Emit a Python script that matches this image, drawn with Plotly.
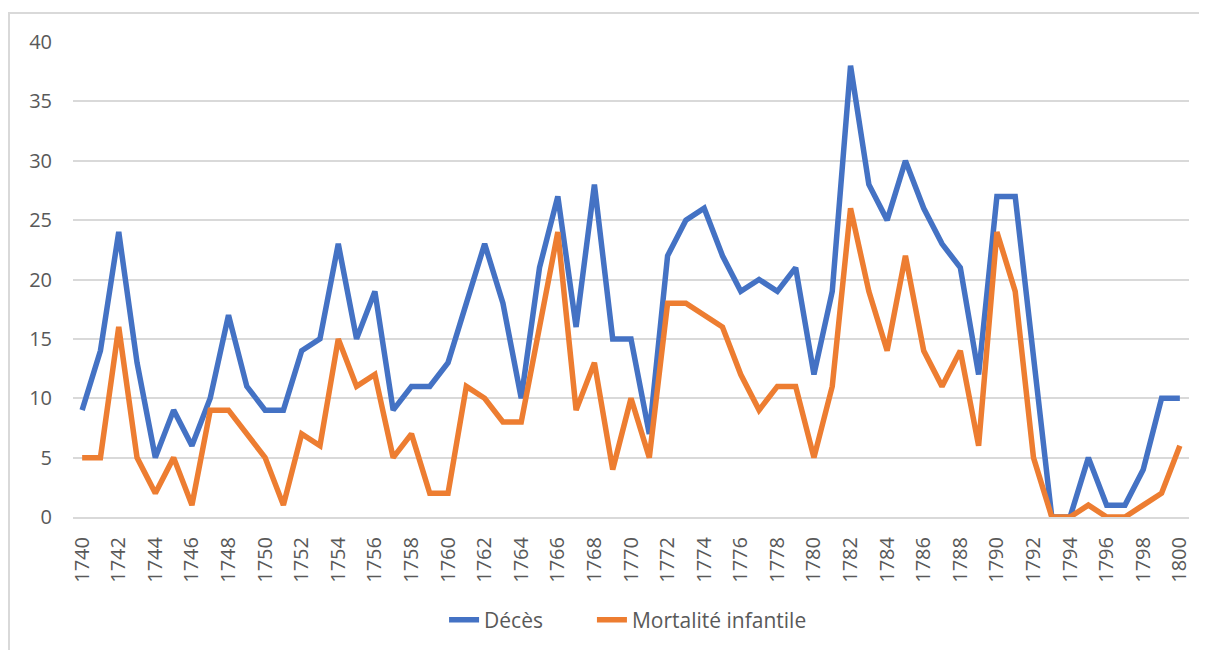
import plotly.graph_objects as go

years = [str(y) for y in range(1740, 1801)]
deces = [9, 14, 24, 13, 5, 9, 6, 10, 17, 11, 9, 9, 14, 15, 23, 15, 19, 9, 11, 11,
         13, 18, 23, 18, 10, 21, 27, 16, 28, 15, 15, 7, 22, 25, 26, 22, 19, 20, 19, 21,
         12, 19, 38, 28, 25, 30, 26, 23, 21, 12, 27, 27, 13, 0, 0, 5, 1, 1, 4, 10, 10]
mortalite = [5, 5, 16, 5, 2, 5, 1, 9, 9, 7, 5, 1, 7, 6, 15, 11, 12, 5, 7, 2,
             2, 11, 10, 8, 8, 16, 24, 9, 13, 4, 10, 5, 18, 18, 17, 16, 12, 9, 11, 11,
             5, 11, 26, 19, 14, 22, 14, 11, 14, 6, 24, 19, 5, 0, 0, 1, 0, 0, 1, 2, 6]
tick_labels = years[::2]
y_ticks = [0, 5, 10, 15, 20, 25, 30, 35, 40]

fig = go.Figure()
fig.add_trace(go.Scatter(x=years, y=deces, mode="lines", name="Décès",
                         line=dict(color="#4472C4", width=5.5), legend="legend"))
fig.add_trace(go.Scatter(x=years, y=mortalite, mode="lines", name="Mortalité infantile",
                         line=dict(color="#ED7D31", width=5.5), legend="legend2"))

legend_common = dict(orientation="h", y=-0.217, yanchor="middle", xanchor="left",
                     font=dict(size=21, color="#595959"), bgcolor="rgba(0,0,0,0)")

# page body has 8px margin: plot area should land at x 73..1189, y 42..517 on the page
fig.update_layout(
    width=1207, height=650,
    margin=dict(l=65, r=26, t=34, b=141, autoexpand=False),
    paper_bgcolor="white", plot_bgcolor="white",
    font=dict(family="Open Sans", color="#595959", size=20),
    showlegend=True,
    legend=dict(x=0.3325, **legend_common),
    legend2=dict(x=0.4650, **legend_common),
    xaxis=dict(type="category", range=[-0.5, 60.5], tickmode="array",
               tickvals=tick_labels, ticktext=tick_labels, tickangle=-90,
               showgrid=False, showline=True, linecolor="#d9d9d9", linewidth=2,
               ticks="", tickfont=dict(size=20, color="#595959"), ticklabelstandoff=10,
               automargin=False),
    yaxis=dict(range=[0, 40], tickvals=y_ticks, showgrid=True, gridcolor="#d9d9d9",
               gridwidth=2, zeroline=False, showline=False, ticks="",
               tickfont=dict(size=20, color="#595959"), ticklabelstandoff=20,
               automargin=False),
    shapes=[dict(type="rect", xref="paper", yref="paper",
                 x0=-64/1116, x1=1.05, y0=-0.5, y1=1 + 29/475,
                 line=dict(color="#d9d9d9", width=2), fillcolor="rgba(0,0,0,0)",
                 layer="below")],
)

fig.write_html("out.html")
